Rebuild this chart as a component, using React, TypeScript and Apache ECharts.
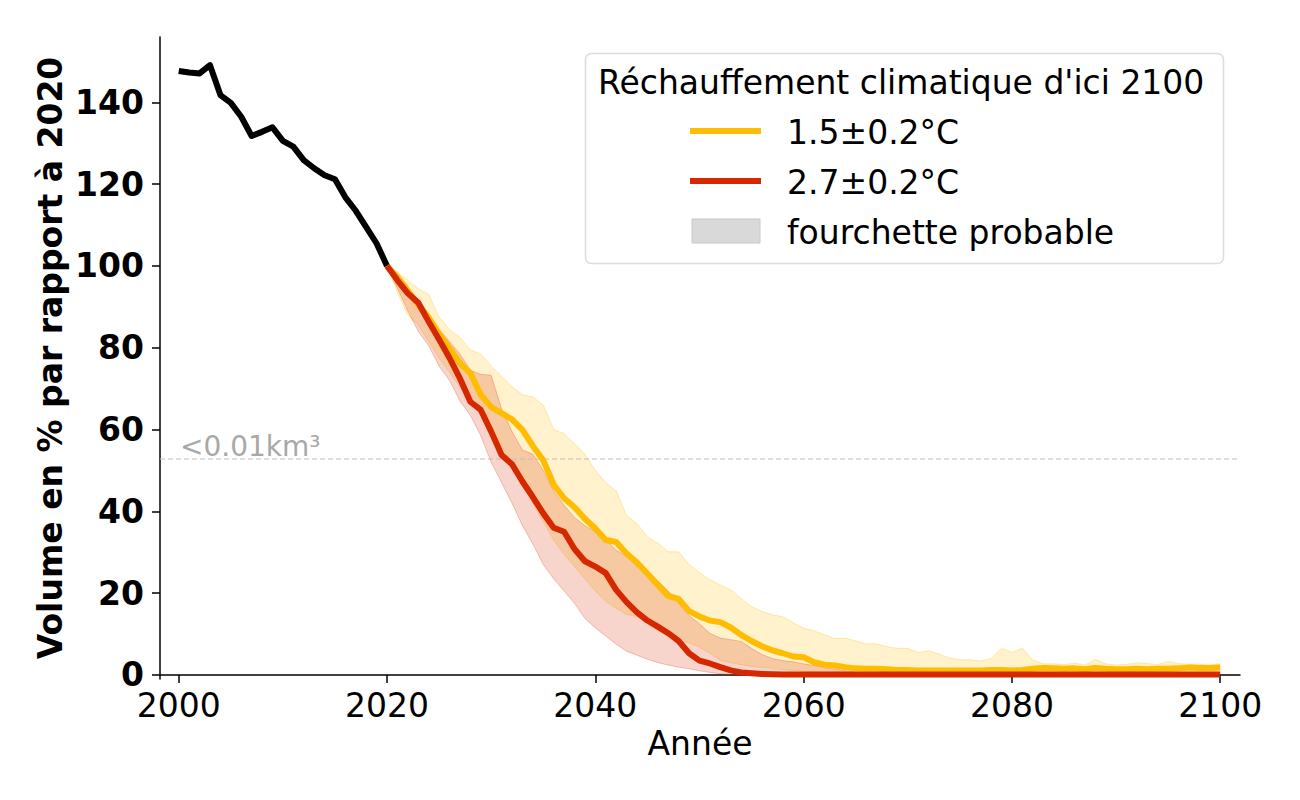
import { useEffect, useRef } from "react";
import * as echarts from "echarts";

// ---------- data ----------
const histYears = [2000, 2001, 2002, 2003, 2004, 2005, 2006, 2007, 2008, 2009, 2010, 2011, 2012, 2013, 2014, 2015, 2016, 2017, 2018, 2019, 2020];
const histVolume = [147.7, 147.3, 147.1, 149.1, 141.8, 139.9, 136.5, 131.8, 132.8, 133.9, 130.6, 129.2, 125.9, 123.9, 122.2, 121.2, 116.8, 113.5, 109.5, 105.5, 100];

const projStartYear = 2020;

// 1.5±0.2°C
const lowMedian = [
  100, 97.3, 94, 90.5, 87.4, 83.4, 79.9, 76.2, 73.8, 68.5,
  65.5, 64, 62.5, 59.9, 56, 52.5, 46.5, 43.2, 41, 38.2,
  35.8, 33, 32.5, 29.7, 27.5, 24.8, 22, 19.3, 18.6, 15.6,
  14.3, 13.3, 12.9, 11.6, 9.8, 8.3, 7.0, 6.0, 5.3, 4.5,
  4.3, 3.1, 2.5, 2.3, 1.9, 1.6, 1.5, 1.5, 1.4, 1.2,
  1.2, 1.1, 1.1, 1.1, 1.1, 1.1, 1.1, 1.1, 1.2, 1.2,
  1.1, 1.2, 1.5, 1.7, 1.6, 1.5, 1.6, 1.4, 1.7, 1.5,
  1.4, 1.4, 1.5, 1.4, 1.5, 1.5, 1.6, 1.8, 1.7, 1.7, 1.8,
];
const lowUpper = [
  100, 98.5, 96.5, 94.5, 93, 87.5, 84.5, 82.5, 79.5, 78.5,
  75.5, 73, 70.5, 68.5, 68, 66, 60, 59, 56.5, 54,
  50, 47, 45, 39, 37, 33.8, 32.2, 30.1, 30.1, 27,
  25, 23.3, 22, 20.8, 18.7, 16.7, 15.5, 14.7, 14.2, 12.8,
  11.4, 10.8, 9.8, 8.9, 9.0, 8.3, 7.6, 7.6, 6.9, 6.5,
  6.5, 5.5, 5.9, 5.1, 4.1, 3.7, 3.7, 3.4, 4.0, 6.5,
  5.5, 6.5, 3.7, 2.7, 2.7, 2.5, 2.9, 2.4, 3.8, 2.7,
  2.4, 2.6, 3.0, 2.8, 2.5, 3.3, 2.7, 2.6, 2.6, 2.4, 2.8,
];
const lowLower = [
  100, 93.5, 88, 85.5, 81.5, 77.5, 74, 70.5, 67, 64,
  60.5, 56, 51, 46.5, 42, 37.5, 33, 29.5, 26.5, 23.5,
  20.5, 18, 16.3, 14.8, 14.3, 12.5, 10.8, 9.5, 8.5, 7.8,
  6.8, 5.3, 3.6, 3.0, 2.5, 2.1, 1.8, 1.6, 1.3, 1.1,
  0.9, 0.8, 0.7, 0.7, 0.6, 0.6, 0.6, 0.6, 0.6, 0.6,
  0.6, 0.6, 0.6, 0.6, 0.6, 0.6, 0.6, 0.6, 0.7, 0.6,
  0.6, 0.7, 0.8, 0.8, 0.7, 0.7, 0.8, 0.7, 0.8, 0.7,
  0.7, 0.7, 0.8, 0.7, 0.7, 0.8, 0.8, 0.9, 0.8, 0.8, 0.9,
];

// 2.7±0.2°C
const highMedian = [
  100, 96.5, 93.3, 91, 86.4, 82, 77.5, 72.5, 66.8, 64.8,
  59.5, 53.8, 51.5, 47.3, 43.5, 39.5, 36, 35, 30.8, 27.8,
  26.5, 24.9, 20.8, 17.8, 15.3, 13.3, 11.8, 10.2, 8.3, 5.3,
  3.5, 2.8, 1.9, 1.1, 0.6, 0.4, 0.25, 0.15, 0.1, 0.1,
  0.1, 0.1, 0.1, 0.1, 0.1, 0.1, 0.1, 0.1, 0.1, 0.1,
  0.1, 0.1, 0.1, 0.1, 0.1, 0.1, 0.1, 0.1, 0.1, 0.1,
  0.1, 0.1, 0.1, 0.1, 0.1, 0.1, 0.1, 0.1, 0.1, 0.1,
  0.1, 0.1, 0.1, 0.1, 0.1, 0.1, 0.1, 0.1, 0.1, 0.1, 0.1,
];
const highUpper = [
  100, 96.5, 93, 90.5, 87.5, 84.5, 81.5, 78.5, 74.5, 73.5,
  73.3, 65, 59.5, 55, 54, 50, 45, 41.5, 38.5, 36.5,
  35, 33, 30.5, 29, 26.5, 25, 23, 20.5, 17.5, 14.5,
  12.5, 10.2, 9.0, 8.6, 8.2, 6.5, 5.0, 4.0, 3.5, 3.2,
  2.7, 2.3, 1.8, 1.4, 1.0, 0.7, 0.5, 0.4, 0.3, 0.25,
  0.2, 0.2, 0.2, 0.2, 0.2, 0.2, 0.2, 0.2, 0.2, 0.2,
  0.2, 0.2, 0.2, 0.2, 0.2, 0.2, 0.2, 0.2, 0.2, 0.2,
  0.2, 0.2, 0.2, 0.2, 0.2, 0.2, 0.2, 0.2, 0.2, 0.2, 0.2,
];
const highLower = [
  100, 94.5, 89, 84, 80.5, 75.5, 72, 67, 63.5, 58.5,
  52, 47, 42, 36.5, 32, 27, 23.5, 20.5, 17.5, 13.8,
  11.5, 9.5, 7.5, 5.8, 4.8, 3.8, 3.0, 2.4, 1.9, 1.5,
  1.0, 0.6, 0.3, 0.15, 0.05, 0.05, 0.05, 0.05, 0.05, 0.05,
  0.05, 0.05, 0.05, 0.05, 0.05, 0.05, 0.05, 0.05, 0.05, 0.05,
  0.05, 0.05, 0.05, 0.05, 0.05, 0.05, 0.05, 0.05, 0.05, 0.05,
  0.05, 0.05, 0.05, 0.05, 0.05, 0.05, 0.05, 0.05, 0.05, 0.05,
  0.05, 0.05, 0.05, 0.05, 0.05, 0.05, 0.05, 0.05, 0.05, 0.05, 0.05,
];

const thresholdValue = 52.8;
const thresholdLabel = "<0.01km³";

const xTicks = [2000, 2020, 2040, 2060, 2080, 2100];
const yTicks = [0, 20, 40, 60, 80, 100, 120, 140];

const legendTitle = "Réchauffement climatique d'ici 2100";
const lowLabel = "1.5±0.2°C";
const highLabel = "2.7±0.2°C";
const bandLabel = "fourchette probable";
const xTitle = "Année";
const yTitle = "Volume en % par rapport à 2020";

// ---------- styles ----------
const YELLOW = "#ffbc00";
const RED = "#d62800";
const FONT = "DejaVu Sans";
const X_MIN = 1998.2;
const X_MAX = 2101.9;
const LW = 6;

export default function App() {
  const ref = useRef<HTMLDivElement>(null);

  useEffect(() => {
    if (!ref.current) return;
    const chart = echarts.init(ref.current, undefined, { renderer: "svg" });

    const projYears = lowMedian.map((_, i) => projStartYear + i);
    const pairs = (vals: number[]) => projYears.map((y, i) => [y, vals[i]]);

    const band = (name: string, lo: number[], up: number[], fill: string, edge: string) => ({
      name,
      type: "custom",
      silent: true,
      data: projYears.map((y, i) => [y, lo[i], up[i]]),
      encode: { x: 0, y: [1, 2] },
      renderItem: (params: any, api: any) => {
        if (params.dataIndex !== 0) return null;
        const upperPts = projYears.map((y, i) => api.coord([y, up[i]]));
        const lowerPts = projYears.map((y, i) => api.coord([y, lo[i]]));
        const poly = upperPts.concat(lowerPts.slice().reverse());
        return {
          type: "group",
          children: [
            { type: "polygon", shape: { points: poly }, style: { fill, stroke: "none" } },
            { type: "polyline", shape: { points: upperPts }, style: { fill: "none", stroke: edge, lineWidth: 1 } },
            { type: "polyline", shape: { points: lowerPts }, style: { fill: "none", stroke: edge, lineWidth: 1 } },
          ],
        };
      },
    });

    const option: any = {
      animation: false,
      textStyle: { fontFamily: FONT },
      grid: { left: 160, right: 60, top: 37, bottom: 121, containLabel: false },
      xAxis: {
        type: "value",
        min: X_MIN,
        max: X_MAX,
        axisLine: { show: true, lineStyle: { color: "#000", width: 1.5 } },
        axisTick: { show: true, length: 8, lineStyle: { color: "#000", width: 1.5 }, customValues: xTicks },
        axisLabel: {
          customValues: xTicks,
          formatter: (v: number) => String(v),
          fontSize: 33,
          color: "#000",
          fontFamily: FONT,
          margin: 10,
        },
        splitLine: { show: false },
        name: xTitle,
        nameLocation: "middle",
        nameGap: 48,
        nameTextStyle: { fontSize: 33, color: "#000", fontFamily: FONT },
      },
      yAxis: {
        type: "value",
        min: -1,
        max: 156,
        axisLine: { show: true, lineStyle: { color: "#000", width: 1.5 } },
        axisTick: { show: true, length: 8, lineStyle: { color: "#000", width: 1.5 }, customValues: yTicks },
        axisLabel: {
          customValues: yTicks,
          formatter: (v: number) => String(v),
          fontSize: 33,
          fontWeight: "bold",
          color: "#000",
          fontFamily: FONT,
          margin: 16,
        },
        splitLine: { show: false },
      },
      series: [
        band("lowBand", lowLower, lowUpper, "rgba(255,188,0,0.2)", "rgba(255,188,0,0.3)"),
        band("highBand", highLower, highUpper, "rgba(214,40,0,0.2)", "rgba(214,40,0,0.25)"),
        {
          name: "threshold",
          type: "line",
          data: [
            [X_MIN, thresholdValue],
            [X_MAX, thresholdValue],
          ],
          symbol: "none",
          lineStyle: { color: "#bdbdbd", width: 1.2, type: [5, 3] },
          silent: true,
        },
        {
          name: "historique",
          type: "line",
          data: histYears.map((y, i) => [y, histVolume[i]]),
          symbol: "none",
          lineStyle: { color: "#000", width: LW, join: "round" },
        },
        {
          name: lowLabel,
          type: "line",
          data: pairs(lowMedian),
          symbol: "none",
          lineStyle: { color: YELLOW, width: LW, join: "round" },
        },
        {
          name: highLabel,
          type: "line",
          data: pairs(highMedian),
          symbol: "none",
          lineStyle: { color: RED, width: LW, join: "round" },
        },
      ],
      graphic: [
        {
          type: "text",
          left: 180,
          top: 432,
          style: { text: thresholdLabel, fontSize: 28, fill: "#a8a8a8", fontFamily: FONT },
          z: 10,
        },
        {
          type: "text",
          x: 50,
          y: 358,
          rotation: Math.PI / 2,
          style: {
            text: yTitle,
            fontSize: 33,
            fontWeight: "bold",
            fill: "#000",
            fontFamily: FONT,
            textAlign: "center",
            textVerticalAlign: "middle",
          },
        },
        {
          type: "rect",
          shape: { x: 585.5, y: 53.5, width: 638, height: 210, r: 6 },
          style: { fill: "rgba(255,255,255,0.85)", stroke: "#dcdcdc", lineWidth: 1.5 },
          z: 20,
        },
        {
          type: "text",
          x: 598,
          y: 82,
          style: { text: legendTitle, fontSize: 33, fill: "#000", fontFamily: FONT, textVerticalAlign: "middle" },
          z: 21,
        },
        {
          type: "line",
          shape: { x1: 690, y1: 131, x2: 761, y2: 131 },
          style: { stroke: YELLOW, lineWidth: LW },
          z: 21,
        },
        {
          type: "text",
          x: 787,
          y: 132,
          style: { text: lowLabel, fontSize: 33, fill: "#000", fontFamily: FONT, textVerticalAlign: "middle" },
          z: 21,
        },
        {
          type: "line",
          shape: { x1: 690, y1: 181, x2: 761, y2: 181 },
          style: { stroke: RED, lineWidth: LW },
          z: 21,
        },
        {
          type: "text",
          x: 787,
          y: 182,
          style: { text: highLabel, fontSize: 33, fill: "#000", fontFamily: FONT, textVerticalAlign: "middle" },
          z: 21,
        },
        {
          type: "rect",
          shape: { x: 692, y: 219, width: 68, height: 24 },
          style: { fill: "#d9d9d9", stroke: "#c8c8c8", lineWidth: 1 },
          z: 21,
        },
        {
          type: "text",
          x: 787,
          y: 232,
          style: { text: bandLabel, fontSize: 33, fill: "#000", fontFamily: FONT, textVerticalAlign: "middle" },
          z: 21,
        },
      ],
    };

    chart.setOption(option);
    return () => chart.dispose();
  }, []);

  return (
    <div
      ref={ref}
      style={{ position: "fixed", left: 0, top: 0, width: 1300, height: 800, background: "#fff" }}
    />
  );
}
